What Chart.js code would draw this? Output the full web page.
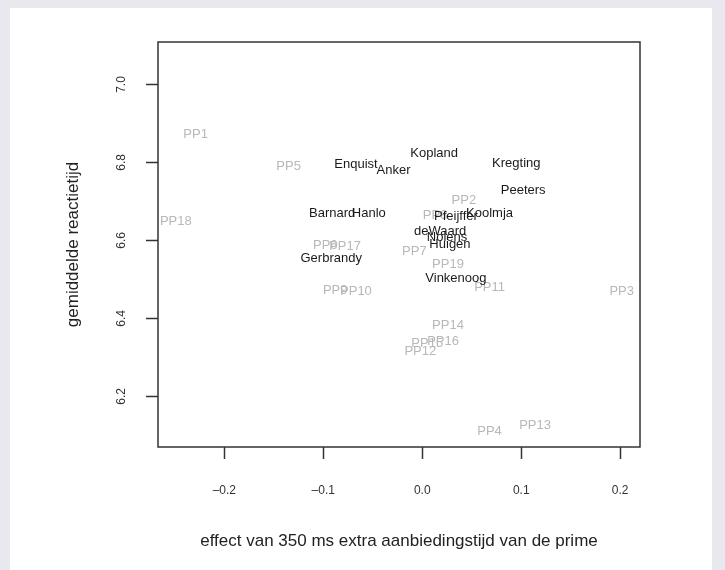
<!DOCTYPE html>
<html>
<head>
<meta charset="utf-8">
<script src="https://cdn.jsdelivr.net/npm/chart.js@4"></script>
<style>
  html, body { margin: 0; padding: 0; }
  body { width: 725px; height: 570px; background: #e8e8ee; position: relative; overflow: hidden; }
  #panel { position: absolute; left: 10px; top: 8px; width: 702px; height: 562px; background: #fff; }
  #wrap { position: absolute; left: 0; top: 0; width: 725px; height: 570px; }
</style>
</head>
<body>
<div id="panel"></div>
<div id="wrap"><canvas id="myChart" width="725" height="570"></canvas></div>
<script>
// dichters (zwart)
const poetNames = ['Kopland', 'Enquist', 'Anker', 'Kregting', 'Peeters', 'Barnard', 'Hanlo', 'Pfeijffer',
                   'Koolmja', 'deWaard', 'Nolens', 'Huigen', 'Gerbrandy', 'Vinkenoog'];
const poetEffect = [0.012, -0.067, -0.029, 0.095, 0.102, -0.091, -0.054, 0.034,
                    0.068, 0.018, 0.025, 0.028, -0.092, 0.034];
const poetRT = [6.822, 6.796, 6.780, 6.798, 6.729, 6.670, 6.670, 6.662,
                6.670, 6.623, 6.608, 6.590, 6.554, 6.502];

// proefpersonen (grijs)
const ppNames = ['PP1', 'PP5', 'PP18', 'PP2', 'PP8', 'PP6', 'PP17', 'PP7', 'PP19', 'PP11',
                 'PP3', 'PP9', 'PP10', 'PP14', 'PP16', 'PP15', 'PP12', 'PP4', 'PP13'];
const ppEffect = [-0.229, -0.135, -0.249, 0.042, 0.013, -0.098, -0.078, -0.008, 0.026, 0.068,
                  0.2015, -0.088, -0.067, 0.026, 0.021, 0.005, -0.002, 0.068, 0.114];
const ppRT = [6.873, 6.791, 6.649, 6.703, 6.664, 6.587, 6.585, 6.572, 6.538, 6.479,
              6.469, 6.471, 6.469, 6.381, 6.340, 6.335, 6.316, 6.110, 6.126];

const xTicks = [-0.2, -0.1, 0.0, 0.1, 0.2];
const yTicks = [6.2, 6.4, 6.6, 6.8, 7.0];

function toPoints(xs, ys) {
    return xs.map((x, i) => ({ x: x, y: ys[i] }));
}

const fontFam = '"Liberation Sans", Arial, sans-serif';

// tekst op de plek van de punten
const labelPlugin = {
    id: 'labels',
    afterDatasetsDraw(chart) {
        const ctx = chart.ctx;
        ctx.save();
        ctx.textAlign = 'center';
        ctx.textBaseline = 'middle';
        ctx.font = '13px ' + fontFam;
        chart.data.datasets.forEach((ds, di) => {
            const meta = chart.getDatasetMeta(di);
            ctx.fillStyle = ds.textColor;
            meta.data.forEach((el, i) => {
                ctx.fillText(ds.names[i], el.x, el.y);
            });
        });
        ctx.restore();
    }
};

const boxPlugin = {
    id: 'box',
    afterDraw(chart) {
        const a = chart.chartArea;
        const ctx = chart.ctx;
        ctx.save();
        ctx.strokeStyle = '#333';
        ctx.lineWidth = 1.5;
        ctx.strokeRect(a.left, a.top, a.right - a.left, a.bottom - a.top);
        ctx.restore();
    }
};

const ctx = document.getElementById('myChart');

new Chart(ctx, {
    type: 'scatter',
    data: {
        datasets: [
            {
                label: 'proefpersonen',
                data: toPoints(ppEffect, ppRT),
                names: ppNames,
                textColor: '#b8b8b8',
                pointRadius: 0
            },
            {
                label: 'dichters',
                data: toPoints(poetEffect, poetRT),
                names: poetNames,
                textColor: '#1a1a1a',
                pointRadius: 0
            }
        ]
    },
    options: {
        responsive: false,
        animation: false,
        layout: { padding: { left: 0, top: 42, right: 85, bottom: 0 } },
        plugins: {
            legend: { display: false },
            tooltip: { enabled: false }
        },
        scales: {
            x: {
                type: 'linear',
                min: -0.267,
                max: 0.220,
                afterFit(scale) { scale.height = 123; },
                afterBuildTicks(scale) { scale.ticks = xTicks.map(v => ({ value: v })); },
                border: { display: false },
                grid: { drawOnChartArea: false, drawTicks: true, tickLength: 12, color: '#333', tickWidth: 1.5 },
                ticks: {
                    padding: 24,
                    color: '#333',
                    font: { family: fontFam, size: 12 },
                    maxRotation: 0,
                    callback: v => (v < 0 ? '\u2013' : '') + Math.abs(v).toFixed(1)
                },
                title: {
                    display: true,
                    text: 'effect van 350 ms extra aanbiedingstijd van de prime',
                    color: '#222',
                    font: { family: fontFam, size: 17 },
                    padding: { top: 0, bottom: 18 }
                }
            },
            y: {
                type: 'linear',
                min: 6.070,
                max: 7.109,
                afterFit(scale) { scale.width = 158; },
                afterBuildTicks(scale) { scale.ticks = yTicks.map(v => ({ value: v })); },
                border: { display: false },
                grid: { drawOnChartArea: false, drawTicks: true, tickLength: 12, color: '#333', tickWidth: 1.5 },
                ticks: {
                    padding: 16,
                    color: '#333',
                    crossAlign: 'center',
                    minRotation: 90,
                    maxRotation: 90,
                    font: { family: fontFam, size: 12 },
                    callback: v => v.toFixed(1)
                },
                title: {
                    display: true,
                    text: 'gemiddelde reactietijd',
                    color: '#222',
                    font: { family: fontFam, size: 17 },
                    padding: { top: 63, bottom: 0 }
                }
            }
        }
    },
    plugins: [labelPlugin, boxPlugin]
});
</script>
</body>
</html>
